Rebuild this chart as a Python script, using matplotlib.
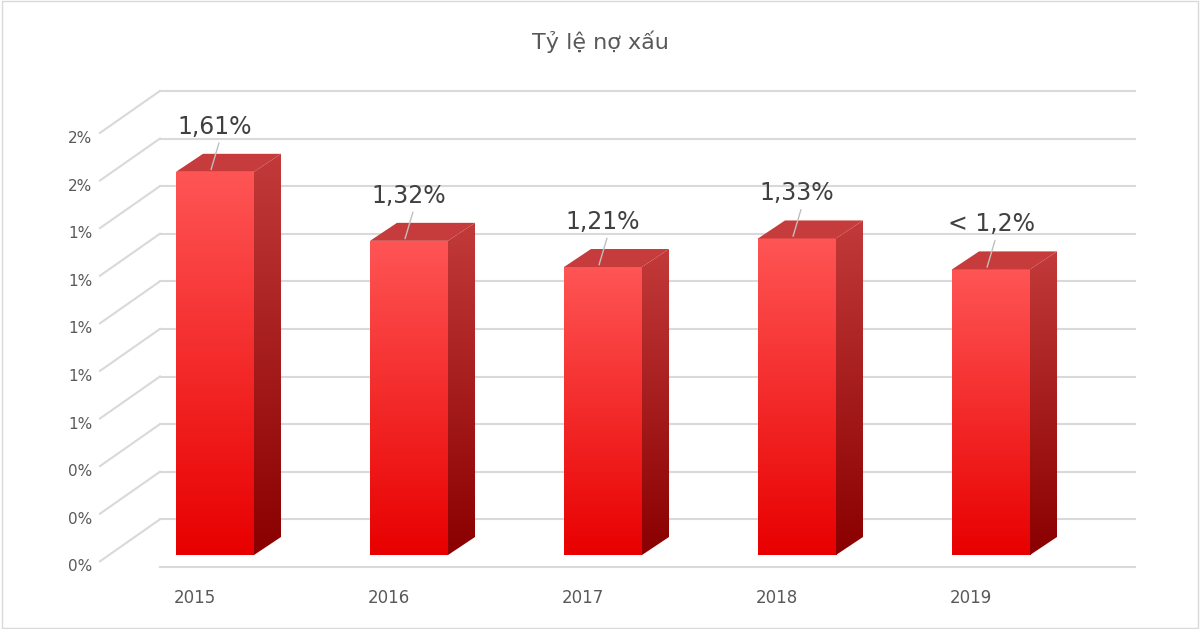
import numpy as np
import matplotlib.pyplot as plt
from matplotlib.patches import Polygon, Rectangle

years = ['2015', '2016', '2017', '2018', '2019']
values = [1.61, 1.32, 1.21, 1.33, 1.20]
labels = ['1,61%', '1,32%', '1,21%', '1,33%', '< 1,2%']
grid_vals = np.arange(0, 2.01, 0.2)
tick_labels = ['0%', '0%', '0%', '1%', '1%', '1%', '1%', '1%', '2%', '2%']

fig = plt.figure(figsize=(12, 6.29), dpi=100)
ax = fig.add_axes([0, 0, 1, 1])
# category units: 194 px per category; value units: 238 px per 1%
PXX, PXY = 194.0, 238.0
ax.set_xlim(-215 / PXX, (1200 - 215) / PXX)
ax.set_ylim(-(629 - 555) / PXY, 555 / PXY)
ax.axis('off')

half_w = 39 / PXX
dx, dy = 27 / PXX, 18 / PXY
back_off = -0.05  # back wall offset of gridlines
left_back = (160 - 215) / PXX
left_front = (100 - 215) / PXX
right_back = (1135 - 215) / PXX

# back wall gridlines with floor diagonals
for v, t in zip(grid_vals, tick_labels + ['']):
    yb = v + back_off
    ax.plot([left_back, right_back], [yb, yb], color='#d9d9d9', lw=1.5, zorder=1)
    if v > 0:
        ax.plot([left_front, left_back], [yb - 42 / PXY, yb], color='#d9d9d9', lw=1.5, zorder=1)
    if t:
        ax.text((80 - 215) / PXX, yb, t, ha='center', va='center', fontsize=11, color='#595959')

front_cmap = plt.matplotlib.colors.LinearSegmentedColormap.from_list('f', ['#e80000', '#ff5555'])
side_cmap = plt.matplotlib.colors.LinearSegmentedColormap.from_list('s', ['#8a0000', '#c33a3a'])
grad = np.linspace(0, 1, 256).reshape(-1, 1)

for i, (v, lab, yr) in enumerate(zip(values, labels, years)):
    x0, x1 = i - half_w, i + half_w
    # front face
    im = ax.imshow(grad, cmap=front_cmap, origin='lower', aspect='auto',
                   extent=[x0, x1, 0, v], zorder=3)
    im.set_clip_path(Rectangle((x0, 0), x1 - x0, v, transform=ax.transData))
    # side face
    side = Polygon([(x1, 0), (x1 + dx, dy), (x1 + dx, v + dy), (x1, v)],
                   closed=True, facecolor='none', edgecolor='none', transform=ax.transData)
    ax.add_patch(side)
    im2 = ax.imshow(grad, cmap=side_cmap, origin='lower', aspect='auto',
                    extent=[x1, x1 + dx, 0, v + dy], zorder=3)
    im2.set_clip_path(side)
    # top face
    ax.add_patch(Polygon([(x0, v), (x1, v), (x1 + dx, v + dy), (x0 + dx, v + dy)],
                         closed=True, facecolor='#c63c3c', edgecolor='none', zorder=4))
    # data label with leader line
    ax.plot([i - 0.02, i + 0.02], [v + 0.01, v + 0.12], color='#bfbfbf', lw=1, zorder=5)
    ax.text(i, v + 0.14, lab, ha='center', va='bottom', fontsize=17, color='#404040', zorder=6)
    ax.text(i - 20 / PXX, -(598 - 555) / PXY, yr, ha='center', va='center',
            fontsize=12, color='#595959')

ax.text(0.5, 1 - 42 / 629, 'Tỷ lệ nợ xấu', transform=ax.transAxes, ha='center',
        va='center', fontsize=16, color='#595959')
ax.add_patch(Rectangle((0.002, 0.002), 0.996, 0.996, transform=ax.transAxes,
                       fill=False, edgecolor='#d9d9d9', lw=1))

fig.savefig('out.png', dpi=100)
